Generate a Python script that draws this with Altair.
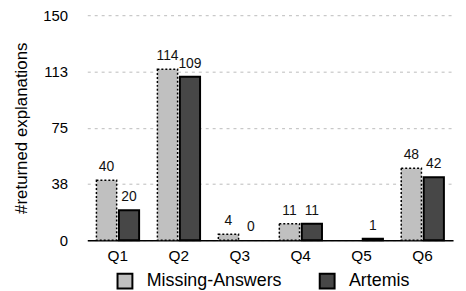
import altair as alt
import pandas as pd

questions = ["Q1", "Q2", "Q3", "Q4", "Q5", "Q6"]
missing_answers = [40, 114, 4, 11, None, 48]
artemis = [20, 109, 0, 11, 1, 42]
series_names = ["Missing-Answers", "Artemis"]
y_ticks = [0, 37.5, 75, 112.5, 150]

rows = []
for q, m, a in zip(questions, missing_answers, artemis):
    if m is not None:
        rows.append({"q": q, "series": series_names[0], "value": m})
    if a is not None:
        rows.append({"q": q, "series": series_names[1], "value": a})
df = pd.DataFrame(rows)

FONT = "Liberation Sans"

x = alt.X("q:N", sort=questions, title=None,
          scale=alt.Scale(paddingInner=0.3, paddingOuter=0.15),
          axis=alt.Axis(labelAngle=0, ticks=False, domainColor="black", domainWidth=1.5,
                        labelFontSize=15.5, labelPadding=8, labelColor="black", labelFont=FONT))
xoff = alt.XOffset("series:N", sort=series_names, scale=alt.Scale(paddingInner=0.1))
y = alt.Y("value:Q", title="#returned explanations",
          scale=alt.Scale(domain=[0, 150], nice=False),
          axis=alt.Axis(values=y_ticks, labelExpr="format(datum.value, '.0f')",
                        domain=False, ticks=False, gridDash=[3, 4], gridColor="#bbbbbb",
                        gridWidth=1, labelFontSize=15, labelPadding=20, labelColor="black",
                        labelFont=FONT, titleFont=FONT, titleFontSize=17, titleFontWeight="normal",
                        titlePadding=12, titleColor="black"))

fill = alt.Color("series:N", sort=series_names, title=None,
                 scale=alt.Scale(domain=series_names, range=["#c0c0c0", "#474747"]),
                 legend=alt.Legend(orient="none", legendX=29, legendY=259, direction="horizontal",
                                   symbolType="square", symbolSize=225, symbolStrokeColor="black",
                                   symbolStrokeWidth=2, symbolOpacity=1, labelFontSize=18,
                                   labelFont=FONT, labelColor="black", labelOffset=13,
                                   columnPadding=33, padding=0))

base = alt.Chart(df)

bars_m = base.transform_filter(
    (alt.datum.series == series_names[0]) & (alt.datum.value > 0)
).mark_bar(
    stroke="black", strokeWidth=1.5, strokeDash=[2, 2], opacity=1
).encode(x=x, xOffset=xoff, y=y, fill=fill)

bars_a = base.transform_filter(
    (alt.datum.series == series_names[1]) & (alt.datum.value > 0)
).mark_bar(
    stroke="black", strokeWidth=2, opacity=1
).encode(x=x, xOffset=xoff, y=y, fill=fill)

labels = base.mark_text(baseline="bottom", dy=-6, fontSize=14, font=FONT, color="#111111").encode(
    x=x, xOffset=xoff, y=y, text=alt.Text("value:Q", format=".0f")
)

chart = alt.layer(bars_m, bars_a, labels).properties(
    width=369, height=227,
    autosize=alt.AutoSizeParams(type="none"),
    padding={"left": 80, "top": 6, "right": 5, "bottom": 50},
).configure_view(stroke=None)

chart.save("out.html", embed_options={"renderer": "svg", "actions": False})
